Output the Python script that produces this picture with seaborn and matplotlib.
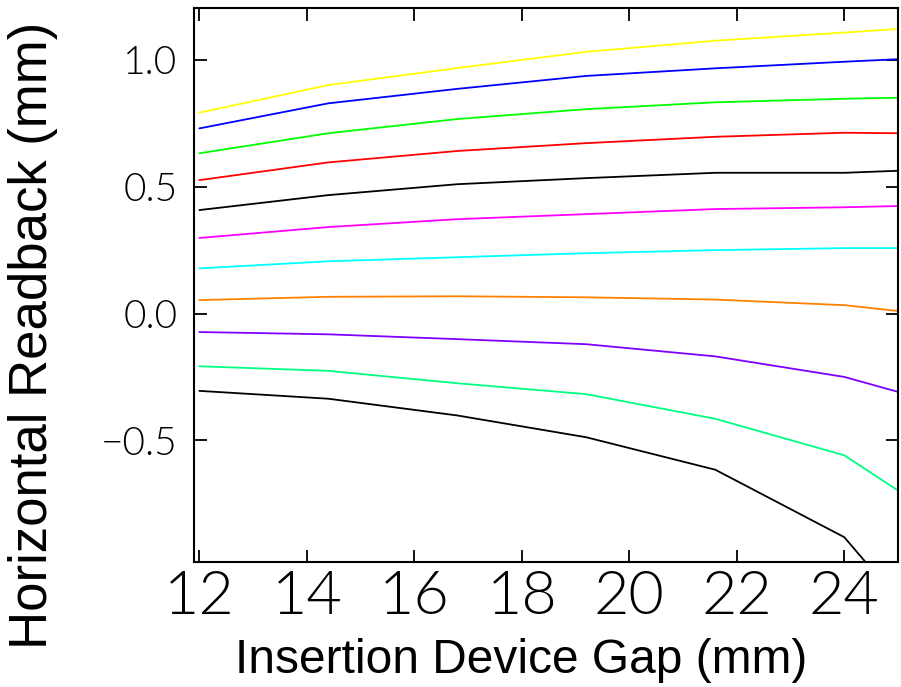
import pandas as pd
import matplotlib
matplotlib.use('Agg')
import matplotlib.pyplot as plt
import seaborn as sns


# =========================================================
# DATA
# =========================================================

gap_mm = [12.0, 14.4, 16.8, 19.2, 21.6, 24.0, 25.0]

trace_yellow = [0.792, 0.901, 0.968, 1.032, 1.076, 1.108, 1.122]
trace_blue = [0.730, 0.829, 0.886, 0.937, 0.967, 0.993, 1.003]
trace_green = [0.632, 0.711, 0.767, 0.806, 0.833, 0.847, 0.851]
trace_red = [0.526, 0.596, 0.641, 0.672, 0.697, 0.713, 0.711]
trace_black_top = [0.408, 0.467, 0.510, 0.534, 0.555, 0.555, 0.563]
trace_magenta = [0.298, 0.341, 0.372, 0.392, 0.412, 0.419, 0.424]
trace_cyan = [0.178, 0.206, 0.222, 0.238, 0.250, 0.258, 0.258]
trace_orange = [0.053, 0.066, 0.068, 0.064, 0.055, 0.033, 0.010]
trace_purple = [-0.073, -0.082, -0.101, -0.121, -0.169, -0.250, -0.309]
trace_spring = [-0.208, -0.226, -0.275, -0.318, -0.415, -0.559, -0.698]
trace_black_bottom = [-0.305, -0.336, -0.402, -0.488, -0.616, -0.882, -1.13]

trace_names = [
    'yellow', 'blue', 'green', 'red', 'black_top', 'magenta',
    'cyan', 'orange', 'purple', 'spring', 'black_bottom'
]

trace_values = [
    trace_yellow, trace_blue, trace_green, trace_red, trace_black_top,
    trace_magenta, trace_cyan, trace_orange, trace_purple, trace_spring,
    trace_black_bottom
]

trace_colors = [
    '#ffff00', '#0000ff', '#00ff00', '#ff0000', '#000000', '#ff00ff',
    '#00ffff', '#ff8000', '#8000ff', '#00ff80', '#000000'
]

x_ticks = [12, 14, 16, 18, 20, 22, 24]
y_ticks = [-0.5, 0.0, 0.5, 1.0]
y_tick_labels = ['\u22120.5', '0.0', '0.5', '1.0']


# =========================================================
# BUILD LONG TABLE
# =========================================================

rows = []
for name, values in zip(trace_names, trace_values):
    for gap, value in zip(gap_mm, values):
        rows.append({'gap': gap, 'readback': value, 'trace': name})

df = pd.DataFrame(rows)


# =========================================================
# PLOT
# =========================================================

sns.set_style('ticks')
plt.rcParams['font.family'] = ['Liberation Sans', 'DejaVu Sans']

fig = plt.figure(figsize=(9.01, 6.87), dpi=100)
ax = fig.add_axes([0.2153, 0.1819, 0.7814, 0.8065])

sns.lineplot(
    data=df,
    x='gap',
    y='readback',
    hue='trace',
    hue_order=trace_names,
    palette=dict(zip(trace_names, trace_colors)),
    sort=False,
    legend=False,
    linewidth=1.3,
    ax=ax
)

ax.set_xlim(11.9, 25.0)
ax.set_ylim(-0.98, 1.205)

ax.set_xticks(x_ticks)
ax.set_xticklabels([str(t) for t in x_ticks])
ax.set_yticks(y_ticks)
ax.set_yticklabels(y_tick_labels)

ax.tick_params(
    direction='in', length=9, width=1.3, color='black',
    labelcolor='black', top=True, right=True
)
ax.tick_params(axis='x', pad=6)
ax.tick_params(axis='y', pad=12)

for label in ax.get_xticklabels():
    label.set_fontfamily(['Lato', 'DejaVu Sans'])
    label.set_fontweight(300)
    label.set_fontsize(44)

for label in ax.get_yticklabels():
    label.set_fontfamily(['Lato', 'DejaVu Sans'])
    label.set_fontweight(300)
    label.set_fontsize(28)

for spine in ax.spines.values():
    spine.set_visible(True)
    spine.set_linewidth(1.5)
    spine.set_color('black')

ax.set_xlabel('')
ax.set_ylabel('')

fig.text(0.578, 0.039, 'Insertion Device Gap (mm)', fontsize=34.5,
         ha='center', va='center', color='black')
fig.text(0.037, 0.512, 'Horizontal Readback (mm)', fontsize=38,
         ha='center', va='center', rotation=90, color='black')

fig.savefig('out.png', dpi=100)
